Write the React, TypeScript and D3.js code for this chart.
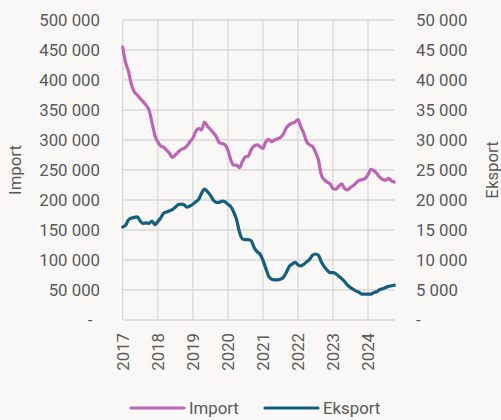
import React from 'react';
import * as d3 from 'd3';

// monthly values, Jan 2017 - Oct 2024
const importValues = [
  455000, 429000, 414000, 392000, 380000, 375000, 369000, 364000, 358000, 350000, 330000, 308000,
  297000, 290000, 288000, 283000, 278000, 271000, 275000, 280000, 284000, 286000, 290000, 297000,
  303000, 314000, 319000, 317000, 330000, 323000, 318000, 312000, 306000, 296000, 294000, 292000,
  283000, 267000, 258000, 258000, 254000, 264000, 272000, 273000, 284000, 290000, 292000, 289000,
  286000, 297000, 301000, 297000, 300000, 302000, 304000, 310000, 320000, 325000, 328000, 330000,
  334000, 322000, 311000, 297000, 292000, 289000, 280000, 267000, 242000, 234000, 230000, 227000,
  219000, 218000, 223000, 227000, 219000, 217000, 221000, 224000, 229000, 233000, 234000, 236000,
  242000, 251000, 249000, 244000, 238000, 234000, 233000, 236000, 232000, 230000,
];

const eksportValues = [
  15500, 15800, 16700, 17000, 17100, 17200, 16500, 16100, 16200, 16100, 16500, 15900,
  16400, 17000, 17800, 18000, 18200, 18400, 18800, 19200, 19300, 19200, 18800, 19000,
  19300, 19700, 20100, 21100, 21800, 21400, 20800, 20000, 19600, 19600, 19800, 19700,
  19300, 18900, 18000, 16700, 14600, 13500, 13400, 13400, 13200, 12100, 11400, 11000,
  10000, 8600, 7300, 6800, 6700, 6700, 6800, 7100, 7900, 8900, 9300, 9600,
  9200, 9000, 9300, 9700, 10100, 10800, 11000, 10800, 9700, 8900, 8300, 7900,
  7900, 7700, 7300, 6900, 6400, 5800, 5400, 5100, 4800, 4600, 4300, 4300,
  4300, 4300, 4600, 4700, 5100, 5200, 5400, 5600, 5700, 5800,
];

const years = ['2017', '2018', '2019', '2020', '2021', '2022', '2023', '2024'];
const leftTicks = [0, 50000, 100000, 150000, 200000, 250000, 300000, 350000, 400000, 450000, 500000];
const rightTicks = [0, 5000, 10000, 15000, 20000, 25000, 30000, 35000, 40000, 45000, 50000];

const seriesNames = ['Import', 'Eksport'];
const colors = ['#bd64b4', '#145f7e'];

const fmt = (v: number) => (v === 0 ? '-' : d3.format(',')(v).replace(/,/g, ' '));

export default function App() {
  const W = 501;
  const H = 420;
  const left = 122.7;
  const right = 394.3;
  const top = 20;
  const bottom = 320;
  const font = 'Roboto, sans-serif';
  const fs = 16.8;
  const textColor = '#595959';
  const grid = '#d9d9d9';

  const x = d3.scaleLinear().domain([0, importValues.length - 1]).range([left, right]);
  const yL = d3.scaleLinear().domain([0, 500000]).range([bottom, top]);
  const yR = d3.scaleLinear().domain([0, 50000]).range([bottom, top]);

  const lineL = d3.line<number>().x((_, i) => x(i)).y((d) => yL(d)).curve(d3.curveMonotoneX);
  const lineR = d3.line<number>().x((_, i) => x(i)).y((d) => yR(d)).curve(d3.curveMonotoneX);

  return (
    <svg width={W} height={H} style={{ display: 'block', position: 'absolute', left: 0, top: 0, background: '#f9f8f6' }}>
      <rect x={0} y={0} width={W} height={H} fill="#f9f8f6" />
      {/* horizontal gridlines */}
      {leftTicks.map((t) => (
        <line key={'h' + t} x1={left} x2={right} y1={yL(t)} y2={yL(t)} stroke={grid} strokeWidth={1.3} />
      ))}
      {/* vertical gridlines, one per year */}
      {years.map((yr, i) => (
        <line key={'v' + yr} x1={x(i * 12)} x2={x(i * 12)} y1={top} y2={bottom} stroke={grid} strokeWidth={1.3} />
      ))}

      <path d={lineL(importValues) ?? ''} fill="none" stroke={colors[0]} strokeWidth={3.2} strokeLinejoin="round" strokeLinecap="round" />
      <path d={lineR(eksportValues) ?? ''} fill="none" stroke={colors[1]} strokeWidth={3.2} strokeLinejoin="round" strokeLinecap="round" />

      {/* left axis labels */}
      {leftTicks.map((t) => (
        <text key={'l' + t} x={t === 0 ? 90 : 100} y={yL(t)} dy="0.35em" textAnchor={t === 0 ? 'middle' : 'end'}
          fontFamily={font} fontSize={fs} fill={textColor}>{fmt(t)}</text>
      ))}
      {/* right axis labels */}
      {rightTicks.map((t) => (
        <text key={'r' + t} x={416} y={yR(t)} dy="0.35em" textAnchor="start"
          fontFamily={font} fontSize={fs} fill={textColor}>{fmt(t)}</text>
      ))}
      {/* x labels */}
      {years.map((yr, i) => (
        <text key={'x' + yr} transform={`translate(${x(i * 12)},333) rotate(-90)`} dy="0.35em" textAnchor="end"
          fontFamily={font} fontSize={fs} fill={textColor}>{yr}</text>
      ))}

      {/* axis titles */}
      <text transform="translate(15,170) rotate(-90)" dy="0.35em" textAnchor="middle" fontFamily={font} fontSize={fs} fill={textColor}>Import</text>
      <text transform="translate(492,170) rotate(-90)" dy="0.35em" textAnchor="middle" fontFamily={font} fontSize={fs} fill={textColor}>Eksport</text>

      {/* legend */}
      {seriesNames.map((name, i) => {
        const lx = i === 0 ? 131 : 265;
        return (
          <g key={name}>
            <line x1={lx} x2={lx + 53} y1={408} y2={408} stroke={colors[i]} strokeWidth={3.2} strokeLinecap="round" />
            <text x={lx + 58} y={408} dy="0.35em" fontFamily={font} fontSize={fs} fill={textColor}>{name}</text>
          </g>
        );
      })}
    </svg>
  );
}
